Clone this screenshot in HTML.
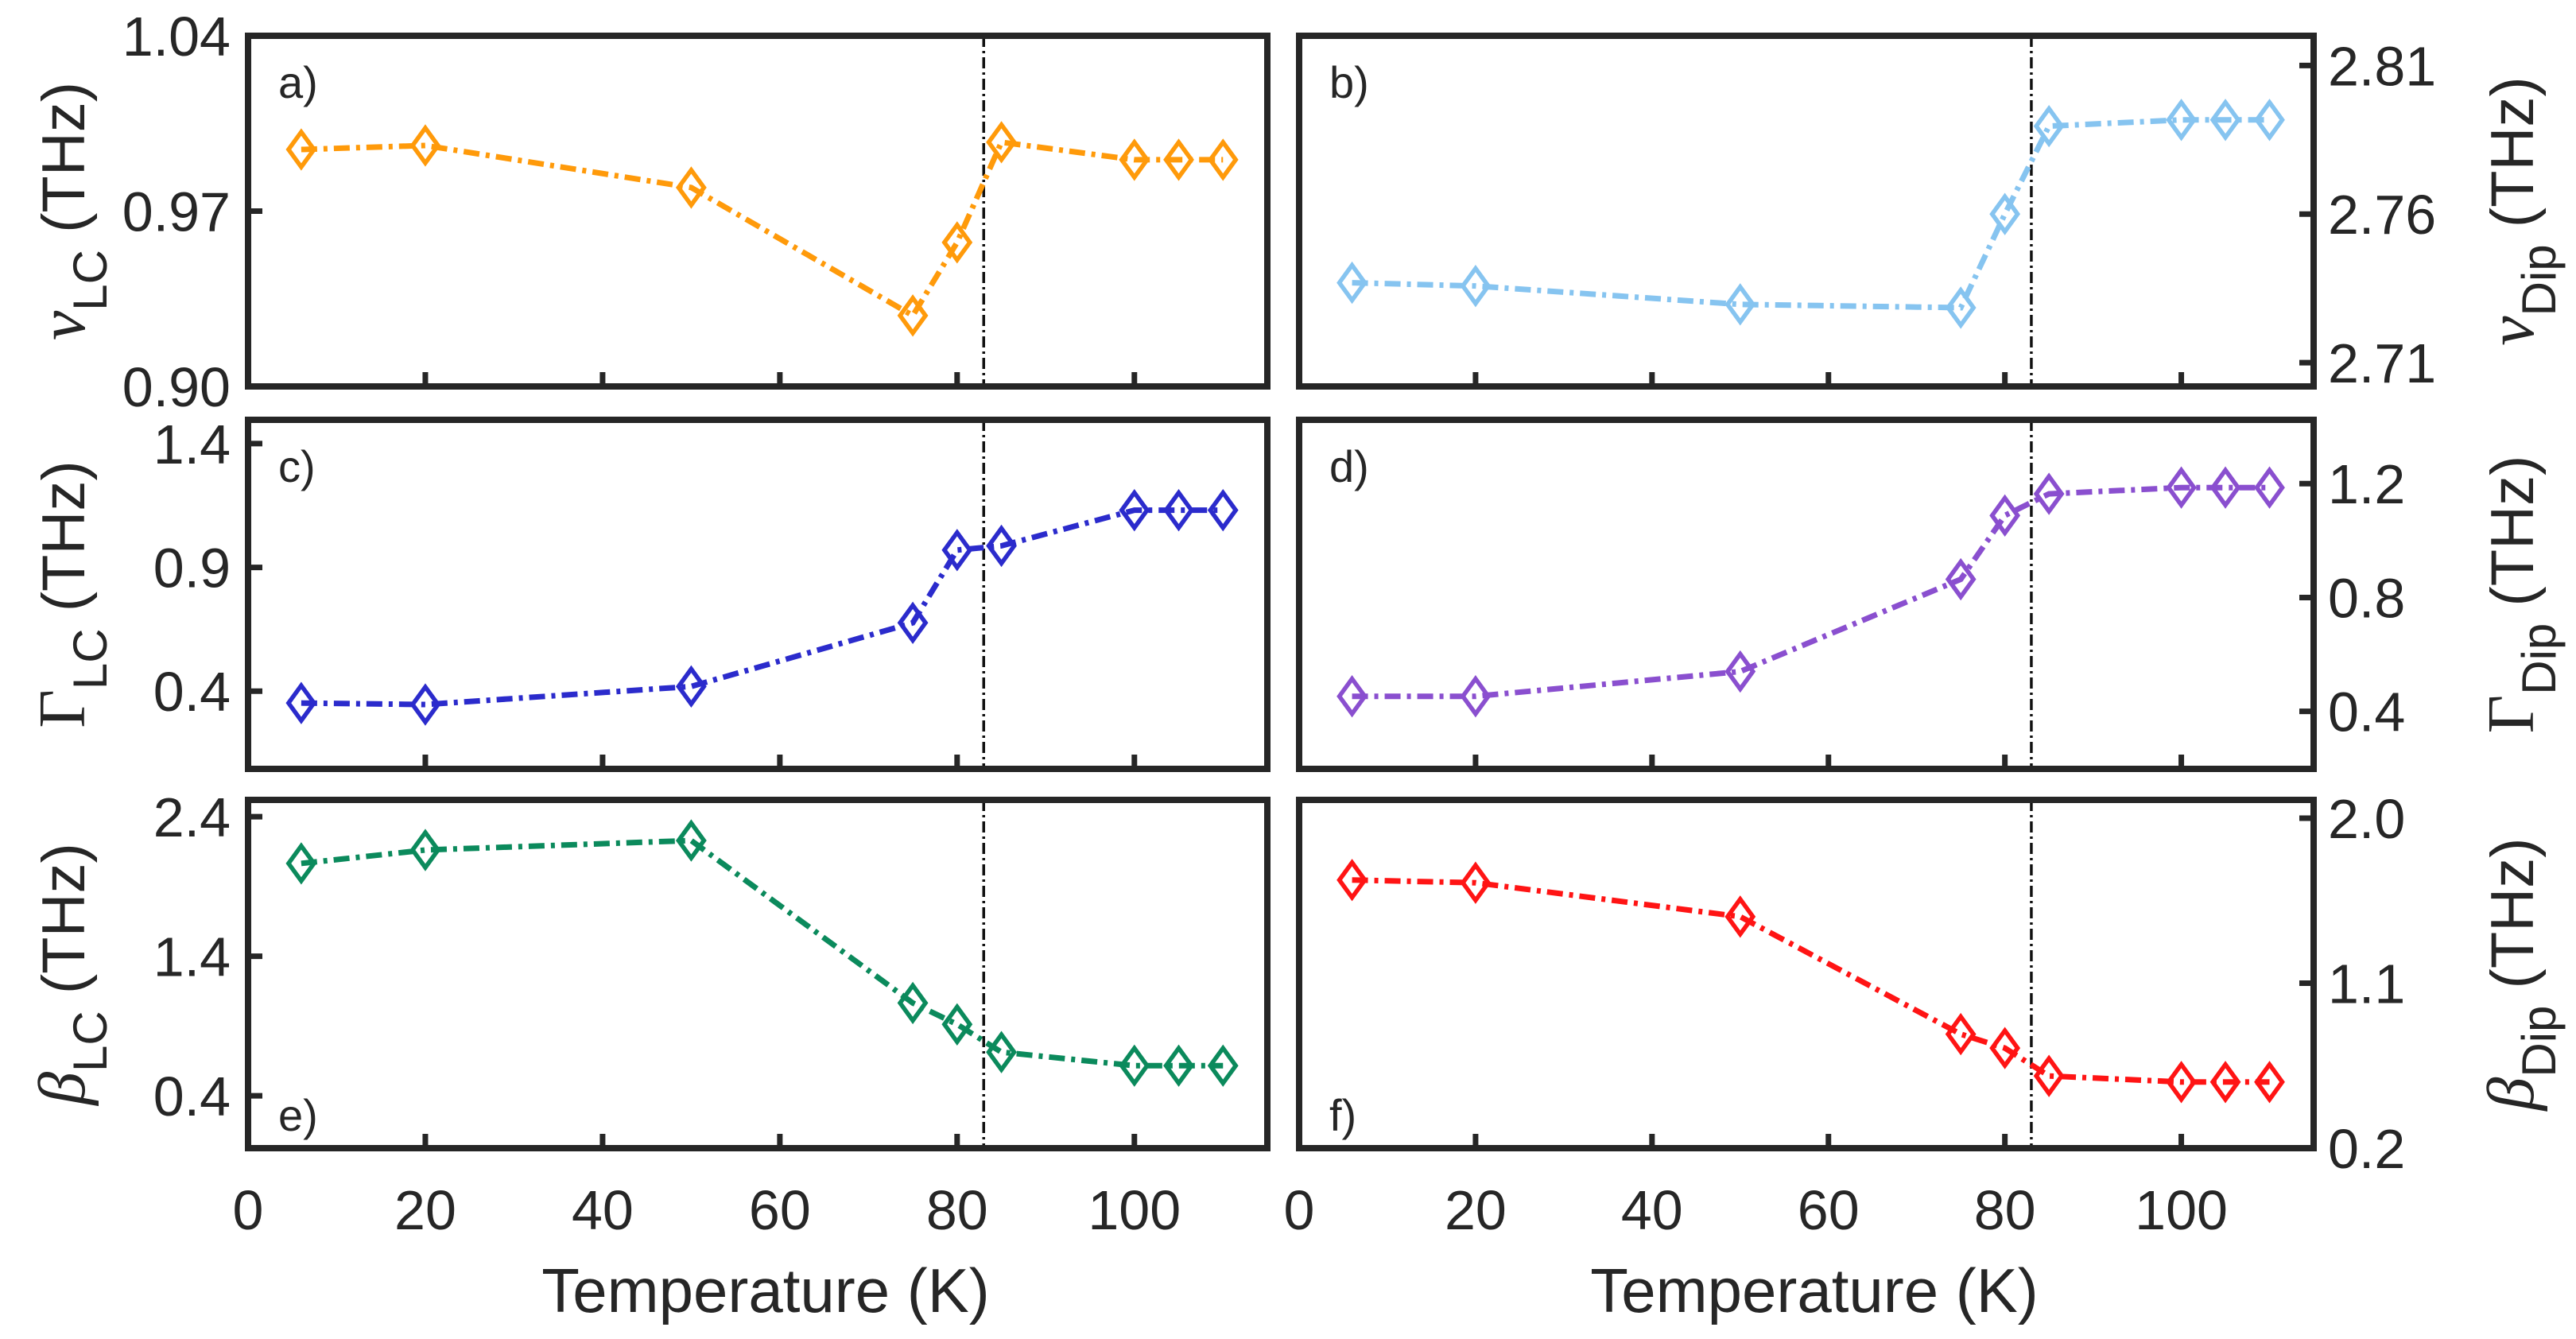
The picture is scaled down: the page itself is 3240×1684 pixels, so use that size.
<!DOCTYPE html>
<html><head><meta charset="utf-8"><style>
html,body{margin:0;padding:0;background:#fff;}
svg{display:block;}
text{font-family:"Liberation Sans",sans-serif;fill:#262626;}
</style></head><body>
<svg id="fig" width="3240" height="1684" viewBox="0 0 3240 1684" xmlns="http://www.w3.org/2000/svg"></svg>
<script>
const temps = [6, 20, 50, 75, 80, 85, 100, 105, 110];
const nuLC = [0.9946, 0.9962, 0.9794, 0.9283, 0.9575, 0.9975, 0.9905, 0.9905, 0.9905];
const nuDip = [2.7369, 2.7358, 2.7296, 2.7285, 2.7600, 2.7896, 2.7917, 2.7917, 2.7917];
const gammaLC = [0.352, 0.346, 0.419, 0.676, 0.970, 0.987, 1.131, 1.131, 1.131];
const gammaDip = [0.453, 0.453, 0.540, 0.864, 1.088, 1.164, 1.186, 1.186, 1.186];
const betaLC = [2.065, 2.161, 2.229, 1.065, 0.912, 0.713, 0.616, 0.616, 0.616];
const betaDip = [1.663, 1.648, 1.463, 0.822, 0.746, 0.594, 0.561, 0.561, 0.561];
const xTicks = [0, 20, 40, 60, 80, 100];
const ticksA = ["0.90", "0.97", "1.04"];
const ticksB = ["2.71", "2.76", "2.81"];
const ticksC = ["0.4", "0.9", "1.4"];
const ticksD = ["0.4", "0.8", "1.2"];
const ticksE = ["0.4", "1.4", "2.4"];
const ticksF = ["0.2", "1.1", "2.0"];
const transitionT = 83;

const NS = "http://www.w3.org/2000/svg";
const svg = document.getElementById('fig');
function mk(tag, attrs, parent) {
  const e = document.createElementNS(NS, tag);
  for (const k in attrs) e.setAttribute(k, attrs[k]);
  (parent || svg).appendChild(e);
  return e;
}
const cols = [{x0: 312, x1: 1594}, {x0: 1634, x1: 2910}];
const rows = [{y0: 45, y1: 486}, {y0: 528, y1: 967}, {y0: 1006, y1: 1444}];
const panels = [
  {id:'a', c:0, r:0, data:nuLC, ticks:ticksA, ymin:0.90, ymax:1.04, color:'#ff9a0a', sym:'ν', sub:'LC', ital:true, labelPos:'top'},
  {id:'b', c:1, r:0, data:nuDip, ticks:ticksB, ymin:2.702, ymax:2.820, color:'#86c4f0', sym:'ν', sub:'Dip', ital:true, labelPos:'top'},
  {id:'c', c:0, r:1, data:gammaLC, ticks:ticksC, ymin:0.086, ymax:1.496, color:'#2b2bcc', sym:'Γ', sub:'LC', ital:false, labelPos:'top'},
  {id:'d', c:1, r:1, data:gammaDip, ticks:ticksD, ymin:0.198, ymax:1.424, color:'#8a4fcf', sym:'Γ', sub:'Dip', ital:false, labelPos:'top'},
  {id:'e', c:0, r:2, data:betaLC, ticks:ticksE, ymin:0.025, ymax:2.52, color:'#0b8a5c', sym:'β', sub:'LC', ital:true, labelPos:'bottom'},
  {id:'f', c:1, r:2, data:betaDip, ticks:ticksF, ymin:0.2, ymax:2.1, color:'#ff1414', sym:'β', sub:'Dip', ital:true, labelPos:'bottom'}
];
const XMAX = 115;
panels.forEach(p => {
  const col = cols[p.c], row = rows[p.r];
  const xs = t => col.x0 + (t / XMAX) * (col.x1 - col.x0);
  const ys = v => row.y1 - (v - p.ymin) / (p.ymax - p.ymin) * (row.y1 - row.y0);
  const g = mk('g', {});
  
  
  const vl = mk('line', {x1: xs(transitionT), x2: xs(transitionT), y1: row.y0, y2: row.y1, stroke:'#111', 'stroke-width':3.5, 'stroke-dasharray':'14 5 3 5'}, g);
  
  
  const pts = temps.map((t, i) => xs(t) + ',' + ys(p.data[i])).join(' ');
  const pl = mk('polyline', {points: pts, fill:'none', stroke:p.color, 'stroke-width':7, 'stroke-dasharray':'20 8 5 8'}, g);
  
  
  temps.forEach((t, i) => {
    const cx = xs(t), cy = ys(p.data[i]);
    const m = mk('polygon', {points: `${cx},${cy-22} ${cx+16},${cy} ${cx},${cy+22} ${cx-16},${cy}`, fill:'none', stroke:p.color, 'stroke-width':5.5}, g);
    
    
  });
  const fr = mk('rect', {x: col.x0, y: row.y0, width: col.x1 - col.x0, height: row.y1 - row.y0, fill:'none', stroke:'#262626', 'stroke-width':8}, g);
  
  
  xTicks.forEach(t => {
    if (t === 0) return;
    mk('line', {x1: xs(t), x2: xs(t), y1: row.y1, y2: row.y1 - 18, stroke:'#262626', 'stroke-width':7}, g);
  });
  if (p.r === 2) {
    xTicks.forEach(t => {
      const tl = mk('text', {x: xs(t), y: 1546, 'text-anchor':'middle', 'font-size':70}, g);
      tl.textContent = t;
      
      
    });
    const xl = mk('text', {x: (col.x0 + col.x1) / 2 + 10, y: 1650, 'text-anchor':'middle', 'font-size':78}, g);
    xl.textContent = 'Temperature (K)';
    
    
  }
  p.ticks.forEach(s => {
    const v = parseFloat(s), y = ys(v);
    if (p.c === 0) {
      mk('line', {x1: col.x0, x2: col.x0 + 18, y1: y, y2: y, stroke:'#262626', 'stroke-width':7}, g);
      const tl = mk('text', {x: 290, y: y + 25, 'text-anchor':'end', 'font-size':70}, g);
      tl.textContent = s;
      
      
    } else {
      mk('line', {x1: col.x1, x2: col.x1 - 18, y1: y, y2: y, stroke:'#262626', 'stroke-width':7}, g);
      const tl = mk('text', {x: 2928, y: y + 25, 'text-anchor':'start', 'font-size':70}, g);
      tl.textContent = s;
      
      
    }
  });
  const ly = p.labelPos === 'top' ? row.y0 + 78 : row.y1 - 22;
  const lt = mk('text', {x: col.x0 + 38, y: ly, 'font-size':56}, g);
  lt.textContent = p.id + ')';
  
  
  const bx = p.c === 0 ? 106 : 3186;
  const cy = (row.y0 + row.y1) / 2;
  const yt = mk('text', {transform: `translate(${bx},${cy}) rotate(-90)`, 'text-anchor':'middle', 'font-size':76}, g);
  
  
  const t1 = mk('tspan', {'font-family':'"Liberation Serif",serif', 'font-style': p.ital ? 'italic' : 'normal', 'font-size':84}, yt);
  t1.textContent = p.sym;
  const t2 = mk('tspan', {dy: 28, 'font-size':60}, yt);
  t2.textContent = p.sub;
  const t3 = mk('tspan', {dy: -28}, yt);
  t3.textContent = ' (THz)';
});
</script>
</body></html>
